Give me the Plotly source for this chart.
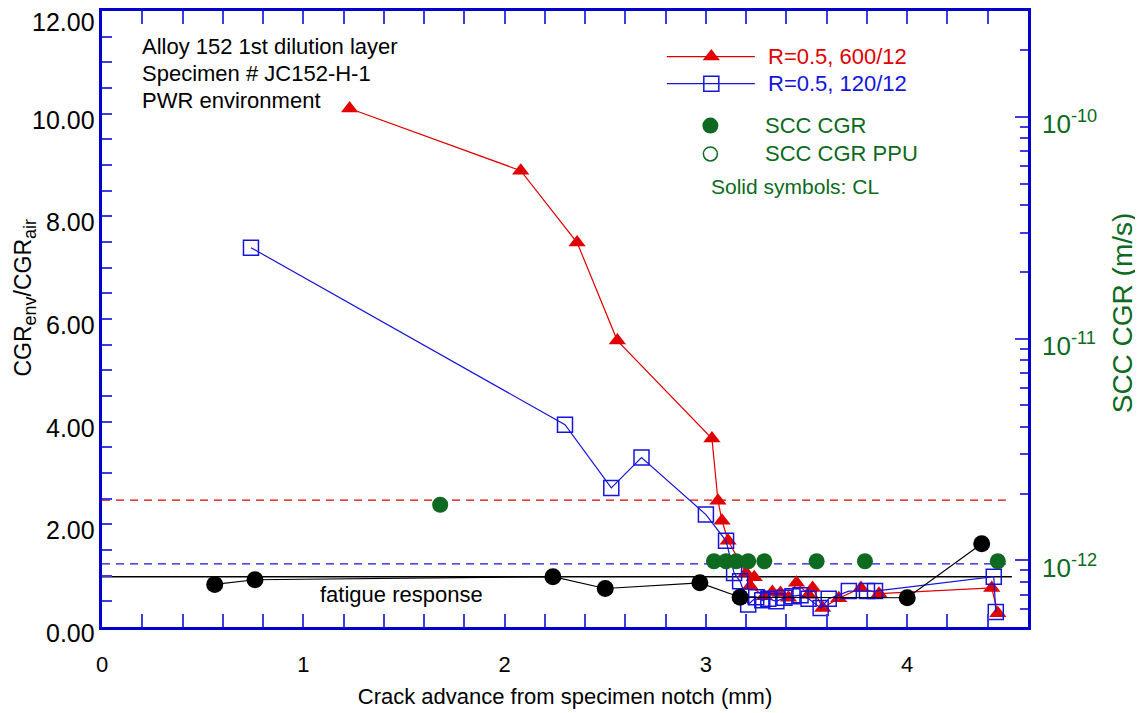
import plotly.graph_objects as go
import numpy as np

# ---------------- data ----------------
# R=0.5, 600/12 (red triangles)
red_x = [1.23, 2.08, 2.36, 2.56, 3.03, 3.06, 3.08, 3.11, 3.20, 3.24, 3.22, 3.29, 3.33, 3.37,
         3.41, 3.45, 3.51, 3.53, 3.58, 3.66, 3.77, 3.86, 4.42, 4.45]
red_y = [10.10, 8.89, 7.49, 5.58, 3.67, 2.46, 2.07, 1.68, 1.05, 0.97, 0.80, 0.60, 0.68, 0.66,
         0.57, 0.86, 0.63, 0.76, 0.37, 0.56, 0.76, 0.65, 0.76, 0.27]

# R=0.5, 120/12 (blue open squares)
blue_x = [0.74, 2.30, 2.53, 2.68, 3.00, 3.10, 3.14, 3.17, 3.21, 3.25, 3.28, 3.31, 3.35, 3.39,
          3.43, 3.47, 3.51, 3.57, 3.61, 3.71, 3.80, 3.84, 4.43, 4.44]
blue_y = [7.39, 3.94, 2.71, 3.30, 2.19, 1.68, 1.05, 0.89, 0.44, 0.58, 0.52, 0.55, 0.50, 0.57,
          0.60, 0.62, 0.55, 0.37, 0.55, 0.70, 0.70, 0.70, 0.98, 0.29]

# fatigue response data (black circles)
fat_x = [0.56, 0.76, 2.24, 2.50, 2.97, 3.17, 4.00, 4.37]
fat_y = [0.83, 0.92, 0.98, 0.75, 0.86, 0.58, 0.57, 1.62]

# SCC CGR (green filled circles, right log axis, m/s)
scc_x = [1.68, 3.04, 3.10, 3.15, 3.21, 3.29, 3.55, 3.79, 4.45]
scc_y = [1.78e-12, 0.99e-12, 0.99e-12, 0.99e-12, 0.99e-12, 0.99e-12, 0.99e-12, 0.99e-12, 0.99e-12]

# reference levels (left axis): red dashed, blue dashed, fatigue response
ref_red, ref_blue, ref_fat = 2.47, 1.23, 0.98
ref_x_end = [4.49, 4.52, 4.52]

x_ticks = [0, 1, 2, 3, 4]
y_ticks = [0, 2, 4, 6, 8, 10, 12]
y_ticktext = ["0.00", "2.00", "4.00", "6.00", "8.00", "10.00", "12.00"]
y2_ticks = [1e-12, 1e-11, 1e-10]
y2_ticktext = ["10<sup>-12</sup>", "10<sup>-11</sup>", "10<sup>-10</sup>"]

RED = "#e00000"
BLUE = "#1414dc"
GREEN = "#0d6a20"
AXIS = "#0000cc"
TICK = "#3c3ce0"
FONT = "Liberation Sans, Arial, sans-serif"

fig = go.Figure()

# reference lines
fig.add_trace(go.Scatter(x=[0, ref_x_end[0]], y=[ref_red, ref_red], mode="lines",
                         line=dict(color=RED, width=1.3, dash="8px,6px"), showlegend=False, hoverinfo="skip"))
fig.add_trace(go.Scatter(x=[0, ref_x_end[1]], y=[ref_blue, ref_blue], mode="lines",
                         line=dict(color=BLUE, width=1.3, dash="8px,6px"), showlegend=False, hoverinfo="skip"))
fig.add_trace(go.Scatter(x=[0, ref_x_end[2]], y=[ref_fat, ref_fat], mode="lines",
                         line=dict(color="black", width=1.5), showlegend=False, hoverinfo="skip"))

# red series
fig.add_trace(go.Scatter(x=red_x, y=red_y, mode="lines+markers",
                         line=dict(color=RED, width=1.2),
                         marker=dict(symbol="triangle-up", size=15, color=RED, line=dict(width=0)),
                         showlegend=False))
# blue series
fig.add_trace(go.Scatter(x=blue_x, y=blue_y, mode="lines+markers",
                         line=dict(color=BLUE, width=1.2),
                         marker=dict(symbol="square-open", size=15, color=BLUE, line=dict(width=1.5, color=BLUE)),
                         showlegend=False))
# fatigue data
fig.add_trace(go.Scatter(x=fat_x, y=fat_y, mode="lines+markers",
                         line=dict(color="black", width=1.2),
                         marker=dict(symbol="circle", size=17, color="black"),
                         showlegend=False))
# SCC CGR
fig.add_trace(go.Scatter(x=scc_x, y=scc_y, mode="markers", yaxis="y2",
                         marker=dict(symbol="circle", size=16, color=GREEN),
                         showlegend=False))

# ---------------- manual legend (hidden overlay axes spanning the plot area) ----------------
leg_y = [0.926, 0.882, 0.814, 0.768]
fig.add_trace(go.Scatter(x=[0.610, 0.705], y=[leg_y[0]] * 2, mode="lines", xaxis="x3", yaxis="y3",
                         line=dict(color=RED, width=1.3), showlegend=False, hoverinfo="skip"))
fig.add_trace(go.Scatter(x=[0.610, 0.705], y=[leg_y[1]] * 2, mode="lines", xaxis="x3", yaxis="y3",
                         line=dict(color=BLUE, width=1.3), showlegend=False, hoverinfo="skip"))
fig.add_trace(go.Scatter(x=[0.658], y=[leg_y[0]], mode="markers", xaxis="x3", yaxis="y3",
                         marker=dict(symbol="triangle-up", size=15, color=RED), showlegend=False, hoverinfo="skip"))
fig.add_trace(go.Scatter(x=[0.658], y=[leg_y[1]], mode="markers", xaxis="x3", yaxis="y3",
                         marker=dict(symbol="square-open", size=15, color=BLUE, line=dict(width=1.5, color=BLUE)),
                         showlegend=False, hoverinfo="skip"))
fig.add_trace(go.Scatter(x=[0.657], y=[leg_y[2]], mode="markers", xaxis="x3", yaxis="y3",
                         marker=dict(symbol="circle", size=16, color=GREEN), showlegend=False, hoverinfo="skip"))
fig.add_trace(go.Scatter(x=[0.657], y=[leg_y[3]], mode="markers", xaxis="x3", yaxis="y3",
                         marker=dict(symbol="circle-open", size=14, color=GREEN, line=dict(width=1.5, color=GREEN)),
                         showlegend=False, hoverinfo="skip"))

ann = []
def txt(x, y, s, color, size, xanchor="left", xref="paper", yref="paper", angle=0, yshift=0):
    ann.append(dict(x=x, y=y, xref=xref, yref=yref, text=s, showarrow=False, textangle=angle,
                    xanchor=xanchor, yanchor="middle", yshift=yshift,
                    font=dict(color=color, size=size, family=FONT)))

txt(0.717, leg_y[0], "R=0.5, 600/12", RED, 22)
txt(0.717, leg_y[1], "R=0.5, 120/12", BLUE, 22)
txt(0.714, leg_y[2], "SCC CGR", GREEN, 22)
txt(0.714, leg_y[3], "SCC CGR PPU", GREEN, 22)
txt(0.655, 0.715, "Solid symbols: CL", GREEN, 21)
txt(0.041, 0.942, "Alloy 152 1st dilution layer", "black", 22)
txt(0.041, 0.898, "Specimen # JC152-H-1", "black", 22)
txt(0.041, 0.855, "PWR environment", "black", 22)
txt(1.49, 0.63, "fatigue response", "black", 22, xanchor="center", xref="x", yref="y")
# axis titles (placed as rotated annotations)
txt(-0.083, 0.535, "CGR<sub><span style='font-size:18px'>env</span></sub>/CGR<sub><span style='font-size:18px'>air</span></sub>",
    "black", 23, xanchor="center", angle=-90)
txt(1.102, 0.51, "SCC CGR (m/s)", GREEN, 28, xanchor="center", angle=-90)
# tick labels of the two value axes (slightly below their ticks, as in the original)
for v, s in zip(y_ticks, y_ticktext):
    txt(-0.0054, v, s, "black", 25, xanchor="right", yref="y", yshift=(-11 if v == 12 else -6))
for v, s in zip(y2_ticks, y2_ticktext):
    txt(1.013, float(np.log10(v)), s, GREEN, 26, xanchor="left", yref="y2", yshift=-6)

axis_common = dict(showgrid=False, zeroline=False, showline=True, linecolor=AXIS, linewidth=3,
                   ticks="inside", tickcolor=TICK, tickwidth=1.5, automargin=False)

minor_log = []
for d in [-13, -12, -11, -10]:
    for m in range(2, 10):
        v = m * 10.0 ** d
        if 5e-13 <= v <= 3e-10:
            minor_log.append(v)

fig.update_layout(
    width=1135, height=705,
    margin=dict(l=94, r=115, t=3, b=86, autoexpand=False),
    paper_bgcolor="white", plot_bgcolor="white",
    font=dict(family=FONT, color="black"),
    annotations=ann,
    xaxis=dict(range=[0, 4.6], tickmode="array", tickvals=x_ticks, ticklen=13,
               mirror="allticks", tickfont=dict(size=22, color="black"), ticklabelstandoff=16,
               minor=dict(ticks="inside", dtick=0.2, tick0=0, ticklen=7, tickcolor=TICK, tickwidth=1.5),
               title=dict(text="Crack advance from specimen notch (mm)", font=dict(size=22), standoff=13),
               **axis_common),
    yaxis=dict(range=[0, 12], tickmode="array", tickvals=y_ticks, ticklen=10, showticklabels=False,
               minor=dict(ticks="inside", dtick=0.5, tick0=0, ticklen=10, tickcolor=TICK, tickwidth=1.5),
               **axis_common),
    yaxis2=dict(type="log", overlaying="y", side="right", anchor="x",
                range=[np.log10(5e-13), np.log10(3e-10)],
                tickmode="array", tickvals=y2_ticks, ticklen=13, showticklabels=False,
                minor=dict(ticks="inside", tickmode="array", tickvals=minor_log, ticklen=8,
                           tickcolor=TICK, tickwidth=1.5),
                **axis_common),
    xaxis3=dict(overlaying="x", range=[0, 1], anchor="y3", visible=False, fixedrange=True),
    yaxis3=dict(overlaying="y", range=[0, 1], anchor="x3", visible=False, fixedrange=True),
    showlegend=False,
)

fig.write_html("out.html")
